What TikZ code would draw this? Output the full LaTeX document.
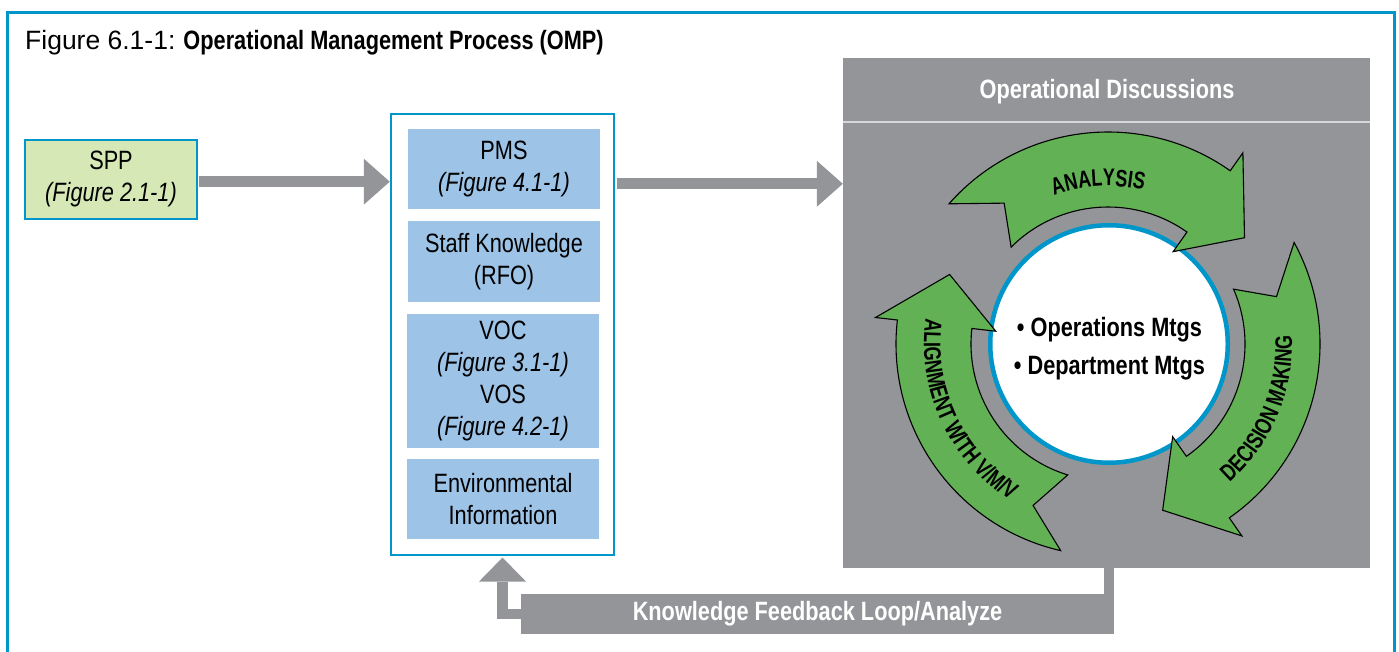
\documentclass[tikz,border=0pt]{standalone}
\usepackage{fontspec}
\setmainfont[FakeStretch=0.82]{Liberation Sans}
\newfontfamily\widefont{Liberation Sans}
\newfontfamily\arcfam[FakeStretch=0.75]{Liberation Sans}
\usetikzlibrary{arrows.meta,decorations.text,calc}
\definecolor{frameblue}{HTML}{0096C9}
\definecolor{panelgray}{HTML}{939598}
\definecolor{boxblue}{HTML}{9DC3E6}
\definecolor{sppgreen}{HTML}{D5E8B6}
\definecolor{arrgreen}{HTML}{62B155}
\definecolor{hdrline}{HTML}{D6D7D8}
\newcommand\arcfont{\arcfam\fontsize{24}{28}\selectfont\bfseries}
\begin{document}
\begin{tikzpicture}[x=1pt,y=1pt,
  txt/.style={font=\fontsize{26.5}{32}\selectfont, align=center, inner sep=0pt},
  ibox/.style={fill=boxblue, draw=none, minimum width=192pt, txt},
  conn/.style={draw=panelgray, line width=11pt, shorten <=1.3pt,
    -{Triangle[length=26pt,width=46pt,line width=0pt]}},
  greenarr/.style={fill=arrgreen, draw=black, line width=1.1pt, line join=miter},
]
\useasboundingbox (0,0) rectangle (1399,651);
\fill[white] (0,0) rectangle (1399,651);
\clip (0,0) rectangle (1399,651);
\draw[frameblue, line width=3pt] (7,-20) -- (7,638.5) -- (1394,638.5) -- (1394,-20);

% title
\node[anchor=base west, inner sep=0pt, font=\fontsize{26.5}{32}\selectfont] (title) at (25,601)
  {{\widefont Figure 6.1-1:} \textbf{Operational Management Process (OMP)}};

% SPP
\node[draw=frameblue, line width=2pt, fill=sppgreen, minimum width=172pt, minimum height=79pt, txt]
  (spp) at (111,471.5) {SPP\\\textit{(Figure 2.1-1)}};

% middle column
\node[draw=frameblue, line width=2.5pt, fill=white, minimum width=223pt, minimum height=441pt, inner sep=0pt]
  (midbox) at (502.5,316.5) {};
\node[ibox, minimum height=80pt] (pms) at (504,482) {PMS\\\textit{(Figure 4.1-1)}};
\node[ibox, minimum height=81pt] (staff) at (504,389.5) {Staff Knowledge\\(RFO)};
\node[ibox, minimum height=134pt] (voc) at (503,270) {VOC\\\textit{(Figure 3.1-1)}\\VOS\\\textit{(Figure 4.2-1)}};
\node[ibox, minimum height=80pt] (env) at (503,152) {Environmental\\Information};

% right panel
\node[fill=panelgray, minimum width=527pt, minimum height=510pt, inner sep=0pt] (panel) at (1106.5,338) {};
\coordinate (hl) at (0,529);
\draw[hdrline, line width=1.5pt] (panel.west |- hl) -- (panel.east |- hl);
\node[inner sep=0pt, text=white, font=\fontsize{26.5}{32}\selectfont\bfseries] (hdr) at (1107,559.3) {Operational Discussions};

\node[circle, draw=frameblue, line width=4.5pt, fill=white, minimum size=237.5pt, inner sep=0pt] (hub) at (1109,307) {};
\node[txt, font=\fontsize{26.5}{38}\selectfont\bfseries] (hubtext) at (1109.5,302.5)
  {\textbullet\ Operations Mtgs\\\textbullet\ Department Mtgs};

\begin{scope}[shift={(1108,307)}]
\draw[greenarr] (138.6:212) arc[start angle=138.6, end angle=54.8, radius=212] -- (54.8:234) -- (37.9:173)
  -- (54.8:113) -- (54.8:137) arc[start angle=54.8, end angle=135, radius=137] -- (126.4:175) -- cycle;
\draw[greenarr] (28.6:212) arc[start angle=28.6, end angle=-55.1, radius=212] -- (-55.1:234) -- (-71.8:175)
  -- (-55.1:113) -- (-55.1:137) arc[start angle=-55.1, end angle=23.6, radius=137] -- (15.7:175) -- cycle;
\draw[greenarr] (257.1:212) arc[start angle=257.1, end angle=173.5, radius=212] -- (173.5:234) -- (156.3:173)
  -- (173.5:113) -- (173.5:137) arc[start angle=173.5, end angle=252.9, radius=137] -- (245.1:178) -- cycle;
\path[decorate, decoration={text along path, text align=center, text={|\arcfont|ANALYSIS}}]
  (133.5:158) arc[start angle=133.5, end angle=53.5, radius=158];
\path[decorate, decoration={text along path, text align=center, text={|\arcfont|DECISION MAKING}}]
  (-63:184) arc[start angle=-63, end angle=17, radius=184];
\path[decorate, decoration={text along path, text align=center, text={|\arcfont|ALIGNMENT WITH V/M/V}}]
  (165:184) arc[start angle=165, end angle=245, radius=184];
\end{scope}

% connectors
\coordinate (r1) at (0,469.3);
\coordinate (r2) at (0,467.2);
\draw[conn] (spp.east |- r1) -- (midbox.west |- r1);
\draw[conn] (midbox.east |- r2) -- (panel.west |- r2);

% feedback loop
\node[fill=panelgray, minimum width=593pt, minimum height=40pt, inner sep=0pt, text=white,
  font=\fontsize{26.5}{32}\selectfont\bfseries] (fb) at (817.5,37) {Knowledge Feedback Loop/Analyze};
\coordinate (sx) at (1109,0);
\draw[panelgray, line width=10pt] (panel.south -| sx) -- (fb.north -| sx);
\draw[panelgray, line width=10.6pt, line join=miter, shorten >=1.3pt,
  -{Triangle[length=24pt,width=47pt,line width=0pt]}] (fb.west) -| (midbox.south);
\end{tikzpicture}
\end{document}
